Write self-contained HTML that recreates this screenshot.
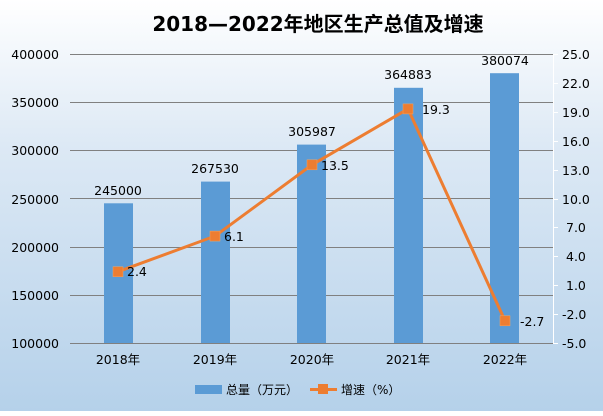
<!DOCTYPE html>
<html><head><meta charset="utf-8"><style>
body{margin:0}
svg text{font-family:"DejaVu Sans","Liberation Sans","Noto Sans CJK SC",sans-serif}
</style></head><body>
<svg width="603" height="411" xmlns="http://www.w3.org/2000/svg">
<defs><linearGradient id="bg" x1="0" y1="0" x2="0" y2="1">
<stop offset="0" stop-color="#ffffff"/><stop offset="0.35" stop-color="#dde9f5"/><stop offset="1" stop-color="#b5d1ea"/></linearGradient></defs>
<rect width="603" height="411" fill="url(#bg)"/>
<text x="318" y="31" font-size="20" font-weight="bold" text-anchor="middle" font-family="Liberation Sans,Noto Sans CJK SC,sans-serif">2018—2022年地区生产总值及增速</text>
<g stroke="#808080" stroke-width="1">
<line x1="70" y1="54.5" x2="553" y2="54.5"/><line x1="70" y1="102.5" x2="553" y2="102.5"/>
<line x1="70" y1="150.5" x2="553" y2="150.5"/><line x1="70" y1="198.5" x2="553" y2="198.5"/>
<line x1="70" y1="247.5" x2="553" y2="247.5"/><line x1="70" y1="295.5" x2="553" y2="295.5"/>
<line x1="70" y1="343.5" x2="553" y2="343.5"/>
</g>
<g stroke="#fff" stroke-width="1"><line x1="553.5" y1="54" x2="553.5" y2="343"/>
<line x1="553" y1="54.5" x2="558" y2="54.5"/><line x1="553" y1="83.5" x2="558" y2="83.5"/><line x1="553" y1="112.5" x2="558" y2="112.5"/><line x1="553" y1="141.5" x2="558" y2="141.5"/><line x1="553" y1="170.5" x2="558" y2="170.5"/><line x1="553" y1="199.5" x2="558" y2="199.5"/><line x1="553" y1="227.5" x2="558" y2="227.5"/><line x1="553" y1="256.5" x2="558" y2="256.5"/><line x1="553" y1="285.5" x2="558" y2="285.5"/><line x1="553" y1="314.5" x2="558" y2="314.5"/><line x1="553" y1="343.5" x2="558" y2="343.5"/></g>
<g font-size="12.5" text-anchor="end">
<text x="59" y="59">400000</text><text x="59" y="107">350000</text><text x="59" y="155">300000</text><text x="59" y="204">250000</text><text x="59" y="252">200000</text><text x="59" y="300">150000</text><text x="59" y="348">100000</text></g>
<g font-size="12.5">
<text x="562" y="59">25.0</text><text x="562" y="88">22.0</text><text x="562" y="117">19.0</text><text x="562" y="146">16.0</text><text x="562" y="175">13.0</text><text x="562" y="204">10.0</text><text x="566" y="232">7.0</text><text x="566" y="261">4.0</text><text x="566" y="290">1.0</text><text x="562" y="319">-2.0</text><text x="562" y="348">-5.0</text></g>
<g fill="#5b9bd5">
<rect x="104" y="203.3" width="29" height="139.7"/><rect x="201" y="181.6" width="29" height="161.4"/><rect x="297" y="144.6" width="29" height="198.4"/><rect x="394" y="87.8" width="29" height="255.2"/><rect x="490" y="73.2" width="29" height="269.8"/></g>
<g font-size="12.5" text-anchor="middle">
<text x="118" y="195">245000</text><text x="215" y="173">267530</text><text x="312" y="136">305987</text><text x="408" y="79">364883</text><text x="505" y="65">380074</text>
<text x="118" y="364">2018年</text><text x="215" y="364">2019年</text><text x="312" y="364">2020年</text><text x="408" y="364">2021年</text><text x="505" y="364">2022年</text></g>
<polyline points="118,271.7 215,236.1 312,164.8 408,108.9 505,320.8" fill="none" stroke="#ed7d31" stroke-width="3"/>
<g fill="#ed7d31" stroke="#f4a460" stroke-width="0.5">
<rect x="113" y="266.7" width="10" height="10"/><rect x="210" y="231.1" width="10" height="10"/><rect x="307" y="159.8" width="10" height="10"/><rect x="403" y="103.9" width="10" height="10"/><rect x="500" y="315.8" width="10" height="10"/></g>
<g font-size="12.5">
<text x="127" y="276">2.4</text><text x="224" y="241">6.1</text><text x="321" y="170">13.5</text><text x="422" y="114">19.3</text><text x="520" y="326">-2.7</text></g>
<rect x="195" y="385" width="27" height="9" fill="#5b9bd5"/>
<text x="226" y="394" font-size="12" font-family="Liberation Sans,Noto Sans CJK SC,sans-serif">总量（万元）</text>
<line x1="310" y1="389.5" x2="337" y2="389.5" stroke="#ed7d31" stroke-width="3"/>
<rect x="318" y="384" width="10" height="10" fill="#ed7d31"/>
<text x="341" y="394" font-size="12" font-family="Liberation Sans,Noto Sans CJK SC,sans-serif">增速（%）</text>
</svg>
</body></html>
